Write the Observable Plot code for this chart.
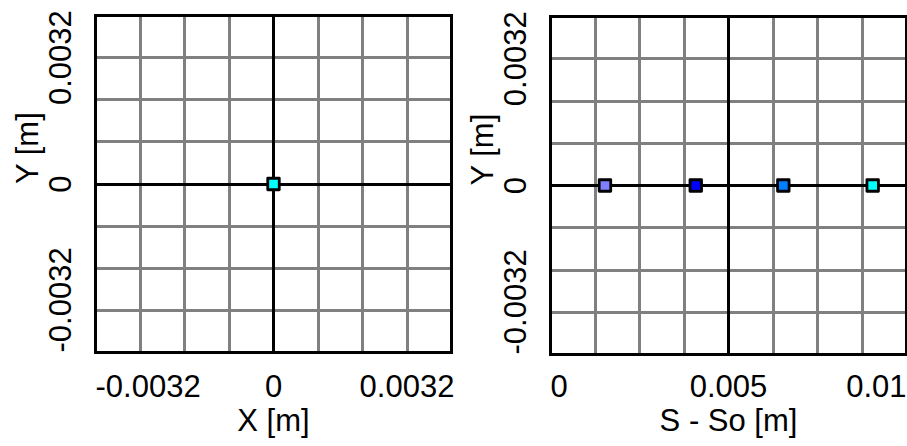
<!DOCTYPE html>
<html><head><meta charset="utf-8">
<script src="https://cdn.jsdelivr.net/npm/d3@7"></script>
<script src="https://cdn.jsdelivr.net/npm/@observablehq/plot@0.6"></script>
<style>
html,body{margin:0;padding:0;background:#fff;}
#chart{position:relative;width:907px;height:446px;overflow:hidden;}
#chart svg{position:absolute;top:0;}
</style></head><body><div id="chart"></div>
<script>
// ---- data ----
// Left panel: transverse (X, Y) position
const xyX = [0];
const xyY = [0];
const xyColor = ["#00ffff"];
// Right panel: longitudinal offset S - So vs Y
const sX = [0.00153, 0.00408, 0.00654, 0.00905];
const sY = [0, 0, 0, 0];
const sColor = ["#8080ff", "#0000ff", "#0080ff", "#00ffff"];

// ---- axes ----
const leftXTicks = [-0.0032, 0, 0.0032];
const leftXTickLabels = ["-0.0032", "0", "0.0032"];
const rightXTicks = [0, 0.005, 0.01];
const rightXTickLabels = ["0", "0.005", "0.01"];
const yTicks = [-0.0032, 0, 0.0032];
const yTickLabels = ["-0.0032", "0", "0.0032"];
const leftXLabel = "X [m]";
const rightXLabel = "S - So [m]";
const yLabel = "Y [m]";
const leftXDomain = [-0.0032 * 4 / 3, 0.0032 * 4 / 3];
const rightXDomain = [0, 0.01];
const yDomain = [-0.0032 * 4 / 3, 0.0032 * 4 / 3];
const gridDivisions = 8;

const FONT_FAMILY = "'Liberation Sans', Arial, sans-serif";
const FONT_SIZE = 31;
const H = 446;

const ctx = document.createElement("canvas").getContext("2d");
ctx.font = `${FONT_SIZE}px ${FONT_FAMILY}`;

// Keep tick labels inside the frame (like the original software does)
function placeTicks(values, labels, domain, len, tol) {
  const [lo, hi] = domain;
  return values.map((v, i) => {
    const w = ctx.measureText(labels[i]).width;
    const p = (v - lo) / (hi - lo) * len;
    if (p - w / 2 < -tol) return {v: lo, label: labels[i], anchor: "start"};
    if (p + w / 2 > len + tol) return {v: hi, label: labels[i], anchor: "end"};
    return {v, label: labels[i], anchor: "middle"};
  });
}

function panel(o) {
  const fw = o.width - o.marginLeft - o.marginRight;
  const fh = H - o.marginTop - o.marginBottom;
  const xt = placeTicks(o.xTicks, o.xTickLabels, o.xDomain, fw, 6);
  const yt = placeTicks(yTicks, yTickLabels, yDomain, fh, 6);
  const grid = (dom) => d3.range(1, gridDivisions).map(i => dom[0] + (dom[1] - dom[0]) * i / gridDivisions);
  const gx = grid(o.xDomain), gy = grid(yDomain);
  const cx = (o.xDomain[0] + o.xDomain[1]) / 2;
  const cy = (yDomain[0] + yDomain[1]) / 2;
  const pts = o.px.map((x, i) => ({x, y: o.py[i], c: o.pc[i]}));
  const anchors = ["start", "middle", "end"];
  return Plot.plot({
    width: o.width, height: H,
    marginLeft: o.marginLeft, marginRight: o.marginRight,
    marginTop: o.marginTop, marginBottom: o.marginBottom,
    style: {fontFamily: FONT_FAMILY, fontSize: FONT_SIZE + "px", background: "transparent", color: "#000"},
    x: {domain: o.xDomain, axis: null},
    y: {domain: yDomain, axis: null},
    marks: [
      Plot.ruleX(gx.filter((d, i) => i !== (gridDivisions / 2 - 1)), {stroke: "#808080", strokeWidth: 3, shapeRendering: "crispEdges"}),
      Plot.ruleY(gy.filter((d, i) => i !== (gridDivisions / 2 - 1)), {stroke: "#808080", strokeWidth: 3, shapeRendering: "crispEdges"}),
      Plot.ruleX([cx], {stroke: "#000", strokeWidth: 3, shapeRendering: "crispEdges"}),
      Plot.ruleY([cy], {stroke: "#000", strokeWidth: 3, shapeRendering: "crispEdges"}),
      Plot.frame({stroke: "#000", strokeWidth: 3.5, shapeRendering: "crispEdges"}),
      Plot.dot(pts, {x: "x", y: "y", fill: "c", symbol: "square", r: 6.5, stroke: "#000", strokeWidth: 2.8, strokeLinejoin: "round"}),
      ...anchors.map(a => Plot.text(xt.filter(d => d.anchor === a), {
        x: "v", text: "label", textAnchor: a, frameAnchor: "bottom", dy: 396 - (o.marginTop + fh), fontSize: FONT_SIZE
      })),
      ...anchors.map(a => Plot.text(yt.filter(d => d.anchor === a), {
        y: "v", text: "label", textAnchor: a, frameAnchor: "left", dx: -34, rotate: -90, fontSize: FONT_SIZE
      })),
      Plot.text([o.xLabel], {text: d => d, frameAnchor: "bottom", dy: 430 - (o.marginTop + fh), fontSize: FONT_SIZE}),
      Plot.text([yLabel], {text: d => d, frameAnchor: "left", dx: -67, rotate: -90, fontSize: FONT_SIZE})
    ]
  });
}

const left = panel({
  width: 455, marginLeft: 95, marginRight: 4, marginTop: 15, marginBottom: 94,
  xDomain: leftXDomain, xTicks: leftXTicks, xTickLabels: leftXTickLabels, xLabel: leftXLabel,
  px: xyX, py: xyY, pc: xyColor
});
const right = panel({
  width: 452, marginLeft: 95, marginRight: 1, marginTop: 16, marginBottom: 92,
  xDomain: rightXDomain, xTicks: rightXTicks, xTickLabels: rightXTickLabels, xLabel: rightXLabel,
  px: sX, py: sY, pc: sColor
});
left.style.left = "0px";
right.style.left = "455px";
const chart = document.getElementById("chart");
chart.appendChild(left);
chart.appendChild(right);
</script>
</body></html>
